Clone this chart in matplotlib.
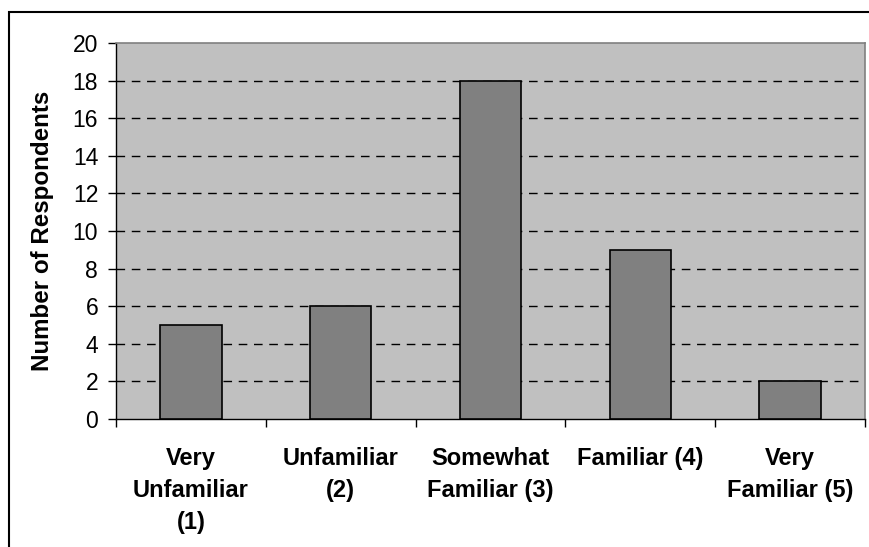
import matplotlib
matplotlib.use("Agg")
import matplotlib.pyplot as plt
from matplotlib.patches import Rectangle

categories = ["Very\nUnfamiliar\n(1)", "Unfamiliar\n(2)", "Somewhat\nFamiliar (3)",
              "Familiar (4)", "Very\nFamiliar (5)"]
respondents = [5, 6, 18, 9, 2]
y_ticks = list(range(0, 21, 2))

plt.rcParams["font.family"] = ["Liberation Sans", "DejaVu Sans"]

W, H = 870, 547
fig = plt.figure(figsize=(W / 100, H / 100), dpi=100)

# outer chart frame (only top and left edges fall inside the image)
fig.patches.append(Rectangle((9 / W, -0.1), 1.2, (H - 12) / H + 0.1,
                             transform=fig.transFigure, fill=False,
                             edgecolor="black", linewidth=1.5))

ax = fig.add_axes([116 / W, 1 - 419 / H, (865 - 116) / W, (419 - 43) / H])
ax.set_facecolor("#C0C0C0")

x = list(range(len(categories)))
ax.bar(x, respondents, width=0.41, color="#808080", edgecolor="black",
       linewidth=1.2, zorder=3)

ax.set_xlim(-0.5, len(categories) - 0.5)
ax.set_ylim(0, 20)
ax.set_yticks(y_ticks)
ax.set_yticklabels([str(v) for v in y_ticks], fontsize=16.5)

for v in y_ticks[1:-1]:
    ax.axhline(v, color="black", linestyle=(0, (6.2, 4.8)), linewidth=1.0, zorder=2)

# category boundary ticks below the axis
ax.set_xticks([i - 0.5 for i in range(len(categories) + 1)])
ax.set_xticklabels([])
ax.set_xticks(x, minor=True)
ax.set_xticklabels(categories, minor=True, fontsize=17, fontweight="bold",
                   linespacing=1.5, va="top")
ax.tick_params(axis="x", which="minor", length=0, pad=20)
ax.tick_params(axis="x", which="major", length=5.8, width=1, direction="out")
ax.tick_params(axis="y", length=5.8, width=1, direction="out", pad=7)

for side in ("top", "right"):
    ax.spines[side].set_color("#808080")
    ax.spines[side].set_linewidth(1.2)
for side in ("left", "bottom"):
    ax.spines[side].set_color("black")
    ax.spines[side].set_linewidth(1.0)

ax.set_ylabel("Number of Respondents", fontsize=17.4, fontweight="bold")
ax.yaxis.set_label_coords(-(116 - 54) / (865 - 116), 0.5)

fig.savefig("out.png", dpi=100)
